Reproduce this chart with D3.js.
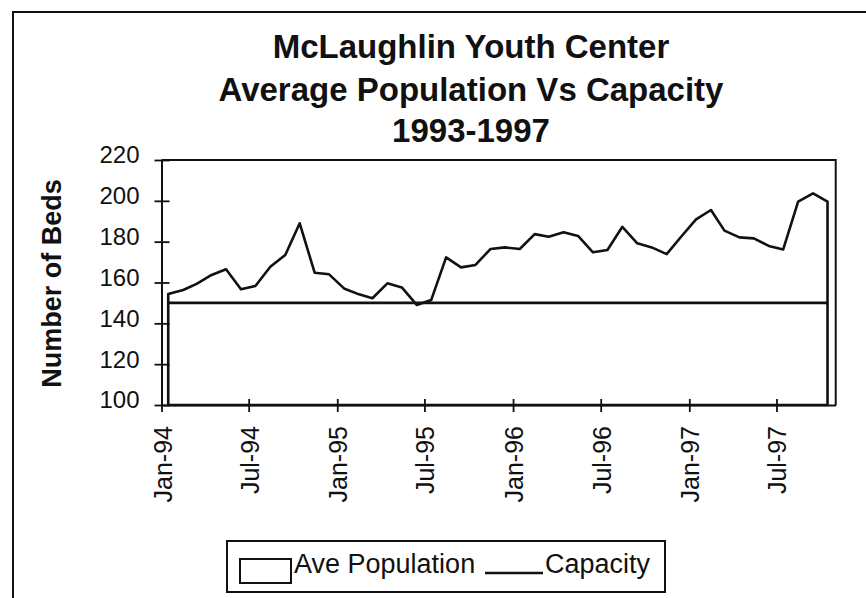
<!DOCTYPE html>
<html>
<head>
<meta charset="utf-8">
<script src="https://cdn.jsdelivr.net/npm/d3@7"></script>
<style>
  html, body { margin: 0; padding: 0; background: #fff; }
  svg { display: block; }
  text { font-family: Arial, "Liberation Sans", sans-serif; fill: #111; }
</style>
</head>
<body>
<svg id="chart" width="866" height="598"></svg>
<script>
// ---- data ----
const titleLines = ["McLaughlin Youth Center", "Average Population Vs Capacity", "1993-1997"];
const yTitle = "Number of Beds";
const seriesNames = ["Ave Population", "Capacity"];

const months = [
  "1994-01","1994-02","1994-03","1994-04","1994-05","1994-06","1994-07","1994-08","1994-09","1994-10","1994-11","1994-12",
  "1995-01","1995-02","1995-03","1995-04","1995-05","1995-06","1995-07","1995-08","1995-09","1995-10","1995-11","1995-12",
  "1996-01","1996-02","1996-03","1996-04","1996-05","1996-06","1996-07","1996-08","1996-09","1996-10","1996-11","1996-12",
  "1997-01","1997-02","1997-03","1997-04","1997-05","1997-06","1997-07","1997-08","1997-09","1997-10"
];
const avePopulation = [
  154.4, 156.3, 159.3, 163.7, 166.5, 156.7, 158.3, 167.7, 173.5, 189.0, 164.8, 164.0,
  157.1, 154.2, 152.3, 159.6, 157.6, 149.0, 151.4, 172.3, 167.4, 168.6, 176.4, 177.2,
  176.4, 183.7, 182.4, 184.6, 182.8, 174.8, 175.9, 187.3, 179.2, 177.2, 173.9, 182.4,
  190.9, 195.5, 185.4, 182.1, 181.6, 177.9, 176.2, 199.6, 203.7, 199.6
];
const capacity = [
  150,150,150,150,150,150,150,150,150,150,150,150,
  150,150,150,150,150,150,150,150,150,150,150,150,
  150,150,150,150,150,150,150,150,150,150,150,150,
  150,150,150,150,150,150,150,150,150,150
];
const yTicks = [100, 120, 140, 160, 180, 200, 220];
const xTickMonths = ["1994-01","1994-07","1995-01","1995-07","1996-01","1996-07","1997-01","1997-07"];
const xDomain = ["1994-01-01", "1997-11-01"];
const yDomain = [100, 220];

// ---- layout ----
const svg = d3.select("#chart");
const parseMonth = d3.timeParse("%Y-%m");
const parseDay = d3.timeParse("%Y-%m-%d");
const midMonth = m => d3.timeDay.offset(parseMonth(m), 14);

const plotLeft = 161.5, plotRight = 835.7, plotTop = 160, plotBottom = 405;

const x = d3.scaleTime().domain(xDomain.map(parseDay)).range([plotLeft, plotRight]);
const y = d3.scaleLinear().domain(yDomain).range([plotBottom, plotTop]);

// outer frame
svg.append("path")
  .attr("d", `M13,620 L13,12 L880,12`)
  .attr("fill", "none").attr("stroke", "#111").attr("stroke-width", 2);

// titles
const titleY = [58, 101, 142];
titleLines.forEach((t, i) => {
  svg.append("text")
    .attr("x", 471).attr("y", titleY[i])
    .attr("text-anchor", "middle")
    .attr("font-size", 33).attr("font-weight", "bold")
    .text(t);
});

// y title
svg.append("text")
  .attr("transform", `translate(61,${(plotTop + plotBottom) / 2 + 1}) rotate(-90)`)
  .attr("text-anchor", "middle")
  .attr("font-size", 27).attr("font-weight", "bold")
  .text(yTitle);

const popData = months.map((m, i) => ({ date: midMonth(m), v: avePopulation[i] }));
const capData = months.map((m, i) => ({ date: midMonth(m), v: capacity[i] }));

// population area
const area = d3.area().x(d => x(d.date)).y0(y(yDomain[0])).y1(d => y(d.v));
svg.append("path")
  .datum(popData)
  .attr("d", area)
  .attr("fill", "#fff").attr("stroke", "#111").attr("stroke-width", 2.6)
  .attr("stroke-linejoin", "round");

// capacity line
const line = d3.line().x(d => x(d.date)).y(d => y(d.v));
svg.append("path")
  .datum(capData)
  .attr("d", line)
  .attr("fill", "none").attr("stroke", "#111").attr("stroke-width", 2.6);

// plot border (top and right)
svg.append("path")
  .attr("d", `M${plotLeft},${plotTop} L${plotRight},${plotTop} L${plotRight},${plotBottom}`)
  .attr("fill", "none").attr("stroke", "#111").attr("stroke-width", 2);

// y axis
const yAxis = svg.append("g")
  .attr("transform", `translate(${plotLeft},0)`)
  .call(d3.axisLeft(y).tickValues(yTicks).tickSizeInner(8).tickSizeOuter(0).tickPadding(14));
yAxis.select(".domain").attr("stroke", "#111").attr("stroke-width", 2);
yAxis.selectAll(".tick line").attr("x1", -7).attr("x2", 8).attr("stroke", "#111").attr("stroke-width", 1.8);
yAxis.selectAll(".tick text")
  .attr("font-size", 24).attr("font-family", "Arial, 'Liberation Sans', sans-serif")
  .attr("fill", "#111").attr("dy", "0.12em");

// x axis
const xAxis = svg.append("g")
  .attr("transform", `translate(0,${plotBottom})`)
  .call(d3.axisBottom(x).tickValues(xTickMonths.map(parseMonth))
    .tickFormat(d3.timeFormat("%b-%y")).tickSizeInner(7).tickSizeOuter(0));
xAxis.select(".domain").attr("stroke", "#111").attr("stroke-width", 2);
xAxis.selectAll(".tick line").attr("y1", -6).attr("y2", 7).attr("stroke", "#111").attr("stroke-width", 1.8);
xAxis.selectAll(".tick text")
  .attr("font-size", 25).attr("font-family", "Arial, 'Liberation Sans', sans-serif")
  .attr("fill", "#111")
  .attr("text-anchor", "end")
  .attr("transform", "rotate(-90)")
  .attr("x", -21).attr("y", 9.5).attr("dy", 0);

// legend
const lg = svg.append("g");
lg.append("rect").attr("x", 227).attr("y", 541).attr("width", 438).attr("height", 51)
  .attr("fill", "#fff").attr("stroke", "#111").attr("stroke-width", 2);
lg.append("rect").attr("x", 240).attr("y", 559).attr("width", 51).attr("height", 24)
  .attr("fill", "#fff").attr("stroke", "#111").attr("stroke-width", 2);
lg.append("text").attr("x", 294).attr("y", 573).attr("font-size", 27).text(seriesNames[0]);
lg.append("line").attr("x1", 485).attr("x2", 543).attr("y1", 573).attr("y2", 573)
  .attr("stroke", "#111").attr("stroke-width", 2.4);
lg.append("text").attr("x", 545).attr("y", 573).attr("font-size", 27).text(seriesNames[1]);
</script>
</body>
</html>
